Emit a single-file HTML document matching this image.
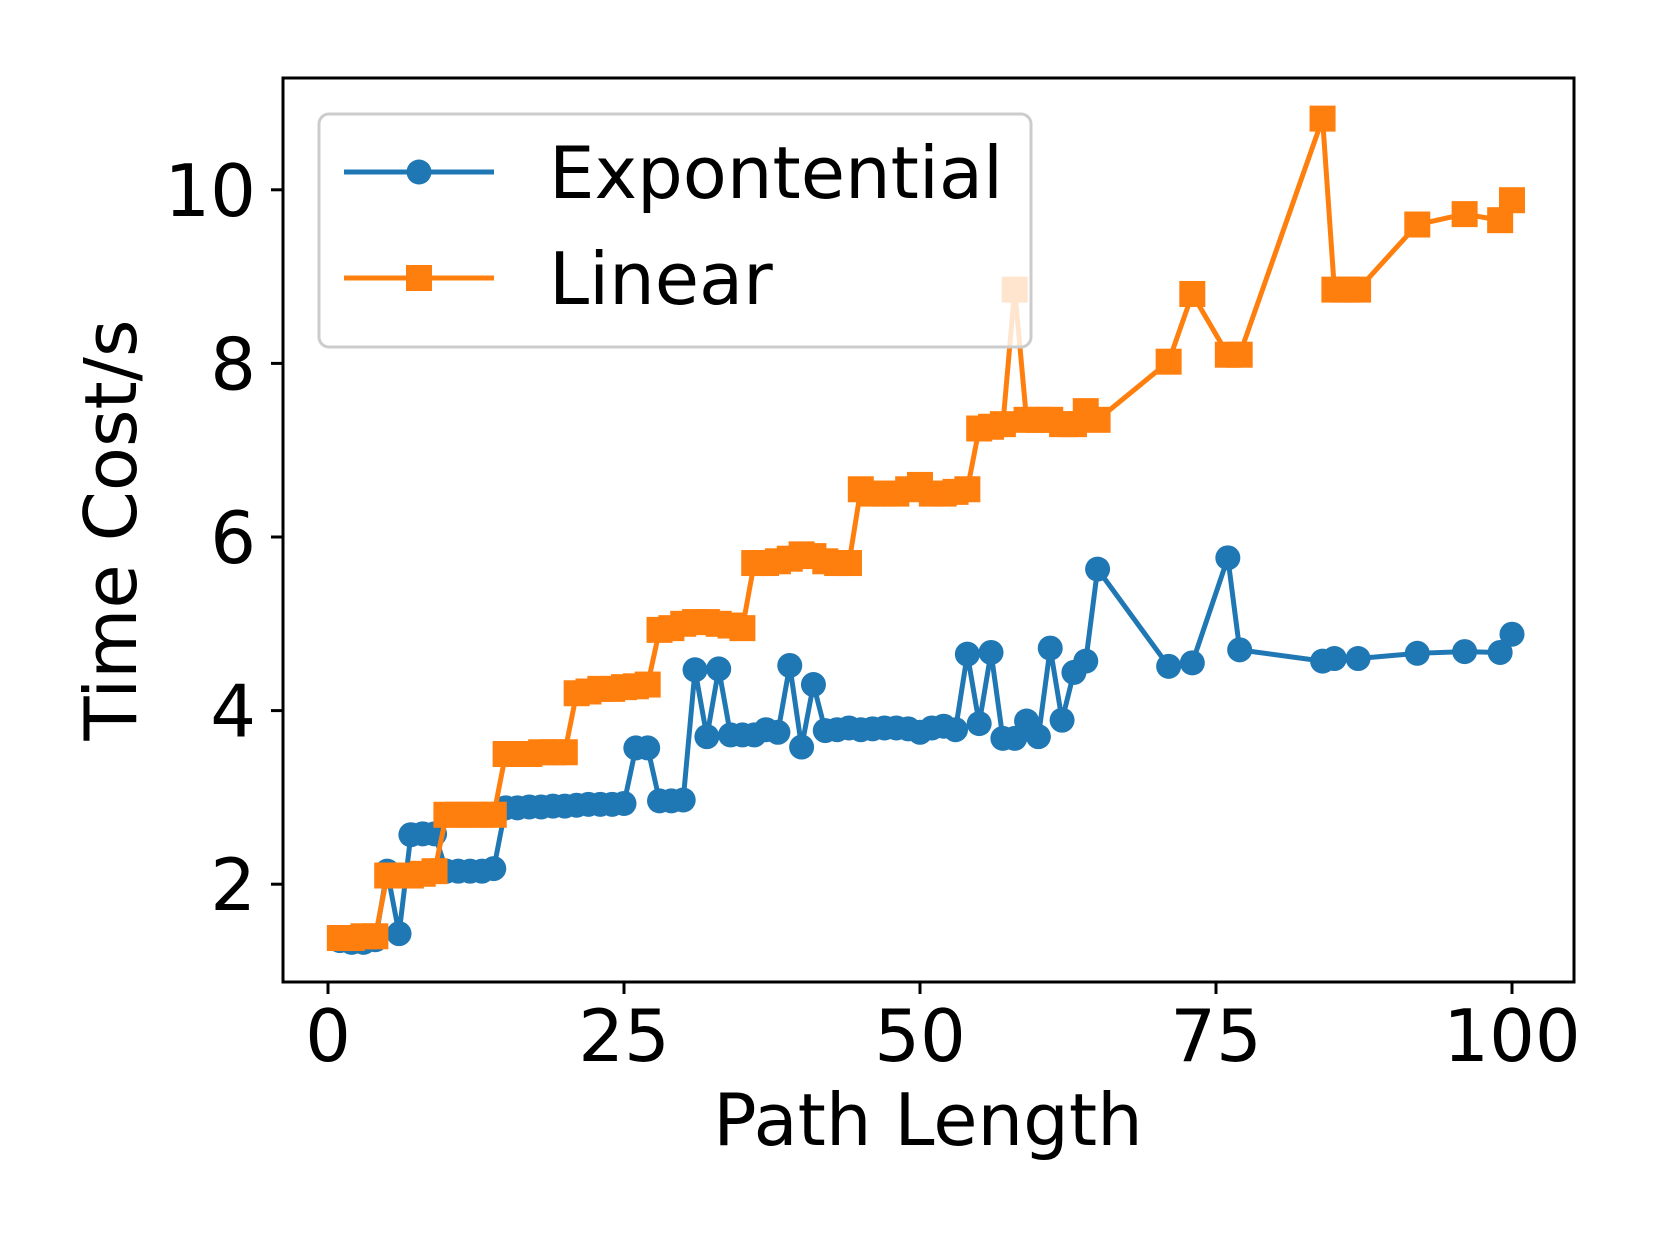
<!DOCTYPE html>
<html><head><meta charset="utf-8"><style>
html,body{margin:0;padding:0;background:#fff;}
svg{display:block;font-family:"DejaVu Sans","Liberation Sans",sans-serif;}
</style></head><body>
<svg id="chart" width="1660" height="1245" viewBox="0 0 1660 1245">
<rect x="0" y="0" width="1660" height="1245" fill="#fff"/>
<g id="plot"></g>
<g id="axes"></g>
<g id="legend"></g>
</svg>
<script>
const expX = [1,2,3,4,5,6,7,8,9,10,11,12,13,14,15,16,17,18,19,20,21,22,23,24,25,26,27,28,29,30,31,32,33,34,35,36,37,38,39,40,41,42,43,44,45,46,47,48,49,50,51,52,53,54,55,56,57,58,59,60,61,62,63,64,65,71,73,76,77,84,85,87,92,96,99,100];
const expY = [1.35,1.33,1.33,1.36,2.15,1.43,2.57,2.58,2.58,2.15,2.15,2.15,2.15,2.18,2.88,2.88,2.89,2.89,2.9,2.9,2.91,2.92,2.92,2.92,2.93,3.57,3.57,2.96,2.96,2.97,4.47,3.7,4.48,3.72,3.72,3.72,3.78,3.75,4.52,3.58,4.3,3.77,3.78,3.8,3.78,3.79,3.8,3.8,3.79,3.75,3.8,3.82,3.78,4.65,3.85,4.67,3.68,3.68,3.88,3.7,4.72,3.89,4.44,4.57,5.63,4.51,4.55,5.76,4.7,4.57,4.6,4.6,4.66,4.68,4.67,4.88];
const linX = [1,2,3,4,5,6,7,8,9,10,11,12,13,14,15,16,17,18,19,20,21,22,23,24,25,26,27,28,29,30,31,32,33,34,35,36,37,38,39,40,41,42,43,44,45,46,47,48,49,50,51,52,53,54,55,56,57,58,59,60,61,62,63,64,65,71,73,76,77,84,85,86,87,92,96,99,100];
const linY = [1.38,1.38,1.4,1.4,2.1,2.1,2.1,2.12,2.15,2.8,2.8,2.8,2.8,2.8,3.5,3.5,3.5,3.52,3.52,3.52,4.2,4.22,4.25,4.25,4.27,4.28,4.3,4.93,4.95,5.0,5.02,5.02,5.0,4.98,4.95,5.7,5.7,5.72,5.75,5.8,5.78,5.72,5.7,5.7,6.55,6.5,6.5,6.5,6.55,6.6,6.5,6.5,6.52,6.55,7.25,7.27,7.3,8.85,7.35,7.35,7.35,7.3,7.3,7.45,7.35,8.02,8.8,8.1,8.1,10.82,8.85,8.85,8.85,9.6,9.72,9.65,9.88];
const xTicks = [0,25,50,75,100];
const yTicks = [2,4,6,8,10];

const L=283,R=1574,T=78,B=982;
function sx(v){return 328 + v*11.84;}
function sy(v){return 1057.8 - v*86.8;}
const NS='http://www.w3.org/2000/svg';
function mk(tag,attrs,parent){const e=document.createElementNS(NS,tag);for(const k in attrs)e.setAttribute(k,attrs[k]);parent.appendChild(e);return e;}
const plot=document.getElementById('plot'), axes=document.getElementById('axes'), leg=document.getElementById('legend');
const BLUE='#1f77b4', ORANGE='#ff7f0e';

const pe=mk('polyline',{points:expX.map((x,i)=>sx(x)+','+sy(expY[i])).join(' '),fill:'none',stroke:BLUE,'stroke-width':5,'stroke-linejoin':'round'},plot);


expX.forEach((x,i)=>{const c=mk('circle',{cx:sx(x),cy:sy(expY[i]),r:12.5,fill:BLUE},plot);

});
const pl=mk('polyline',{points:linX.map((x,i)=>sx(x)+','+sy(linY[i])).join(' '),fill:'none',stroke:ORANGE,'stroke-width':5,'stroke-linejoin':'round'},plot);


linX.forEach((x,i)=>{const r=mk('rect',{x:sx(x)-13,y:sy(linY[i])-13,width:26,height:26,fill:ORANGE},plot);

});

const fr=mk('rect',{x:L,y:T,width:R-L,height:B-T,fill:'none',stroke:'#000','stroke-width':3},axes);


xTicks.forEach(t=>{
 mk('line',{x1:sx(t),x2:sx(t),y1:B,y2:B+12,stroke:'#000','stroke-width':3},axes);
 const tx=mk('text',{x:sx(t),y:1061,'font-size':72,'text-anchor':'middle',fill:'#000'},axes);
 tx.textContent=t;
 
 
});
yTicks.forEach(t=>{
 mk('line',{x1:L-12,x2:L,y1:sy(t),y2:sy(t),stroke:'#000','stroke-width':3},axes);
 const tx=mk('text',{x:256,y:sy(t)+26,'font-size':72,'text-anchor':'end',fill:'#000'},axes);
 tx.textContent=t;
 
 
});
const xl=mk('text',{x:928,y:1145,'font-size':72,'text-anchor':'middle',fill:'#000'},axes);
xl.textContent='Path Length';


const yl=mk('text',{x:0,y:0,'font-size':72,'text-anchor':'middle',fill:'#000',transform:'translate(136,530) rotate(-90)'},axes);
yl.textContent='Time Cost/s';



const lb=mk('rect',{x:319,y:114,width:712,height:233,rx:10,fill:'#fff','fill-opacity':0.8,stroke:'#ccc','stroke-width':3},leg);


[[172,BLUE,'Expontential','c'],[278,ORANGE,'Linear','s']].forEach(([y,col,lab,m])=>{
 const g=mk('g',{},leg);
 
 
 mk('line',{x1:344,x2:494,y1:y,y2:y,stroke:col,'stroke-width':5},g);
 if(m==='c') mk('circle',{cx:419,cy:y,r:12.5,fill:col},g);
 else mk('rect',{x:406,y:y-13,width:26,height:26,fill:col},g);
 const t=mk('text',{x:549,y:y+26,'font-size':72,fill:'#000'},g);
 t.textContent=lab;
});
</script>
</body></html>
